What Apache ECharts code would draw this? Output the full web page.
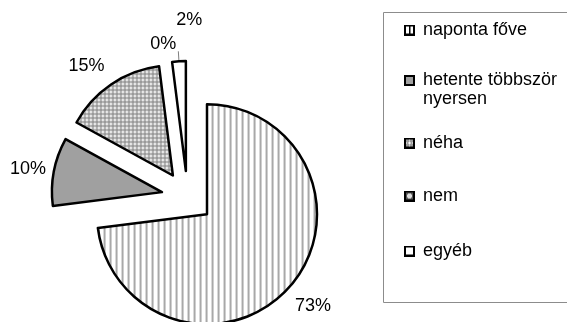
<!DOCTYPE html>
<html>
<head>
<meta charset="utf-8">
<script src="https://cdn.jsdelivr.net/npm/echarts@6/dist/echarts.min.js"></script>
<style>
  html, body { margin: 0; padding: 0; background: #fff; }
  #chart { width: 567px; height: 322px; }
</style>
</head>
<body>
<div id="chart"></div>
<script>
// Answer categories and their shares (percent)
const categories = ['naponta főve', 'hetente többször nyersen', 'néha', 'nem', 'egyéb'];
const shares = [73, 10, 15, 0, 2];
// Legend text (second entry wraps onto two lines; the leading blank line keeps
// the first line level with its swatch)
const legendLabels = ['naponta főve', '\nhetente többször\nnyersen', 'néha', 'nem', 'egyéb'];

const FONT = "'Liberation Sans', Arial, sans-serif";

// Small repeating tiles used as hatch fills
function makeTile(w, h, draw) {
  const c = document.createElement('canvas');
  c.width = w; c.height = h;
  draw(c.getContext('2d'));
  return c;
}
const stripeTile = makeTile(6, 6, g => {
  g.fillStyle = '#fff'; g.fillRect(0, 0, 6, 6);
  g.fillStyle = '#a8a8a8'; g.fillRect(0, 0, 2, 6);
});
const dotTile = makeTile(4, 4, g => {
  g.fillStyle = '#9a9a9a'; g.fillRect(0, 0, 4, 4);
  g.fillStyle = '#fff';
  g.fillRect(1, 0, 1, 3); g.fillRect(0, 1, 3, 1);
});
const crossTile = makeTile(6, 6, g => {
  g.fillStyle = '#4a4a4a'; g.fillRect(0, 0, 6, 6);
  g.fillStyle = '#fff';
  g.fillRect(2, 1, 2, 4); g.fillRect(1, 2, 4, 2);
});
const pattern = t => ({ image: t, repeat: 'repeat' });
const fills = [pattern(stripeTile), '#a0a0a0', pattern(dotTile), pattern(crossTile), '#ffffff'];

// Legend swatches: framed squares with the same fills
function swatch(drawInside) {
  const c = makeTile(11, 11, g => {
    g.fillStyle = '#fff'; g.fillRect(0, 0, 11, 11);
    drawInside(g);
    g.strokeStyle = '#000'; g.lineWidth = 2;
    g.strokeRect(1, 1, 9, 9);
  });
  return 'image://' + c.toDataURL();
}
const legendIcons = [
  swatch(g => { g.fillStyle = '#000'; g.fillRect(5, 2, 1.5, 7); }),
  swatch(g => { g.fillStyle = '#a0a0a0'; g.fillRect(2, 2, 7, 7); }),
  swatch(g => { g.fillStyle = g.createPattern(dotTile, 'repeat'); g.fillRect(2, 2, 7, 7); }),
  swatch(g => { g.fillStyle = '#555'; g.fillRect(2, 2, 7, 7); g.fillStyle = '#ddd'; g.fillRect(4, 3, 3, 5); g.fillRect(3, 4, 5, 3); }),
  swatch(() => {})
];

// Fine nudges for the percentage labels (dx, dy)
const labelNudge = [[-7, 12], [7, -1], [4, -10], [12, -8], [29, -31]];

// Vertical positions of the legend entries
const legendTops = [20.5, 52, 133.5, 186.5, 241.5];

const chart = echarts.init(document.getElementById('chart'), null, { renderer: 'canvas' });

const option = {
  animation: false,
  backgroundColor: '#fff',
  graphic: [{
    type: 'rect',
    shape: { x: 383.5, y: 12.5, width: 200, height: 290 },
    style: { fill: 'none', stroke: '#8c8c8c', lineWidth: 1 },
    silent: true
  }],
  legend: categories.map((name, i) => ({
    data: [{ name, icon: legendIcons[i] }],
    orient: 'vertical',
    left: 404,
    top: legendTops[i],
    padding: 0,
    itemGap: 0,
    itemWidth: 11,
    itemHeight: 11,
    selectedMode: false,
    formatter: () => legendLabels[i],
    textStyle: {
      fontFamily: FONT, fontSize: 18, color: '#000', lineHeight: 19,
      padding: [0, 0, 0, 3]
    }
  })),
  series: [{
    type: 'pie',
    center: [187.5, 197],
    radius: 110,
    startAngle: 90,
    clockwise: true,
    selectedMode: 'multiple',
    selectedOffset: 26,
    avoidLabelOverlap: false,
    emphasis: { disabled: true },
    itemStyle: { borderColor: '#000', borderWidth: 2.5 },
    label: {
      position: 'outside',
      formatter: '{c}%',
      fontFamily: FONT,
      fontSize: 18,
      color: '#000'
    },
    labelLine: { show: false, length: 10, length2: 0 },
    labelLayout: p => ({ dx: labelNudge[p.dataIndex][0], dy: labelNudge[p.dataIndex][1] }),
    data: categories.map((name, i) => ({
      name,
      value: shares[i],
      selected: true,
      itemStyle: { color: fills[i], borderWidth: shares[i] > 0 ? 2.5 : 0 },
      labelLine: i === 4 ? { show: true, lineStyle: { color: '#7f7f7f', width: 1 } } : { show: false }
    }))
  }]
};

chart.setOption(option);
</script>
</body>
</html>
